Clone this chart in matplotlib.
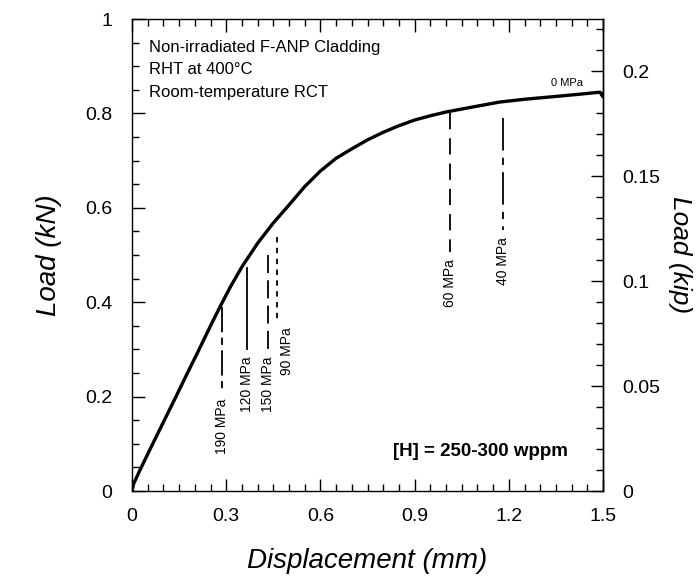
import numpy as np
import matplotlib
matplotlib.use('Agg')
import matplotlib.pyplot as plt
from matplotlib.ticker import MultipleLocator, FormatStrFormatter

plt.rcParams['font.family'] = ['Liberation Sans', 'DejaVu Sans']

# Load-displacement curve (mm, kN)
disp = [0.0, 0.005, 0.025, 0.06, 0.10, 0.14, 0.175, 0.21, 0.25, 0.28, 0.312,
        0.35, 0.40, 0.45, 0.50, 0.55, 0.60, 0.65, 0.70, 0.75, 0.80, 0.85,
        0.90, 0.95, 1.00, 1.08, 1.17, 1.25, 1.35, 1.43, 1.49, 1.50]
load = [0.0, 0.015, 0.044, 0.092, 0.146, 0.20, 0.248, 0.295, 0.35, 0.39, 0.431,
        0.475, 0.525, 0.568, 0.606, 0.645, 0.678, 0.705, 0.725, 0.744, 0.76, 0.774,
        0.786, 0.795, 0.803, 0.813, 0.824, 0.830, 0.836, 0.841, 0.845, 0.835]

# Failure points of the RCT tests at each hoop stress
stress_labels = ['190 MPa', '120 MPa', '150 MPa', '90 MPa', '60 MPa', '40 MPa']
fail_disp = [0.287, 0.366, 0.433, 0.462, 1.013, 1.182]
fail_load = [0.39, 0.472, 0.50, 0.538, 0.80, 0.79]
after_load = [0.21, 0.30, 0.30, 0.362, 0.506, 0.553]
drop_styles = [(0, (14, 3, 4, 3)), '-', (0, (10, 4)), (0, (3, 3)),
               (0, (9, 5)), (0, (18, 4, 4, 4))]

KIP_PER_KN = 0.2248

fig = plt.figure(figsize=(7, 5.78), dpi=100)
ax = fig.add_axes([0.1886, 0.1505, 0.6729, 0.8166])

ax.plot(disp, load, color='black', lw=2.4, solid_capstyle='round',
        solid_joinstyle='round')

for i in range(len(fail_disp)):
    ax.plot([fail_disp[i], fail_disp[i]], [fail_load[i], after_load[i]],
            color='black', lw=1.3, linestyle=drop_styles[i])
    dx = 0.03 if stress_labels[i] == '90 MPa' else 0.0
    ax.annotate(stress_labels[i], xy=(fail_disp[i] + dx, after_load[i]),
                xytext=(0, -5), textcoords='offset points',
                rotation=90, ha='center', va='top', fontsize=10)

ax.text(1.385, 0.864, '0 MPa', fontsize=8, ha='center', va='center')

ax.text(0.055, 0.955, 'Non-irradiated F-ANP Cladding\nRHT at 400°C\nRoom-temperature RCT',
        fontsize=12, ha='left', va='top', linespacing=1.6)
ax.text(1.108, 0.083, '[H] = 250-300 wppm', fontsize=13.5, fontweight='bold',
        ha='center', va='center')

ax.set_xlim(0, 1.5)
ax.set_ylim(0, 1.0)
ax.xaxis.set_major_locator(MultipleLocator(0.3))
ax.xaxis.set_minor_locator(MultipleLocator(0.05))
ax.yaxis.set_major_locator(MultipleLocator(0.2))
ax.yaxis.set_minor_locator(MultipleLocator(0.05))
ax.xaxis.set_major_formatter(FormatStrFormatter('%g'))
ax.yaxis.set_major_formatter(FormatStrFormatter('%g'))
ax.tick_params(which='both', direction='in', top=True, right=False,
               labelsize=14, width=1)
ax.tick_params(which='major', length=9, pad=12)
ax.tick_params(which='minor', length=5)
ax.tick_params(axis='y', which='major', pad=14)

sec = ax.secondary_yaxis('right', functions=(lambda v: v * KIP_PER_KN,
                                             lambda v: v / KIP_PER_KN))
sec.yaxis.set_major_locator(MultipleLocator(0.05))
sec.yaxis.set_minor_locator(MultipleLocator(0.01))
sec.yaxis.set_major_formatter(FormatStrFormatter('%g'))
sec.tick_params(which='both', direction='in', labelsize=14, width=1)
sec.tick_params(which='major', length=9, pad=14)
sec.tick_params(which='minor', length=5)
sec.set_ylabel('Load (kip)', style='italic', fontsize=19, rotation=-90,
               labelpad=23)

# no offset/exponent texts needed
ax.xaxis.offsetText.set_visible(False)
ax.yaxis.offsetText.set_visible(False)
sec.yaxis.offsetText.set_visible(False)

for sp in list(ax.spines.values()) + list(sec.spines.values()):
    sp.set_linewidth(1.0)

ax.set_xlabel('Displacement (mm)', style='italic', fontsize=20, labelpad=17)
ax.set_ylabel('Load (kN)', style='italic', fontsize=20, labelpad=17)

fig.savefig('out.png', dpi=100)
